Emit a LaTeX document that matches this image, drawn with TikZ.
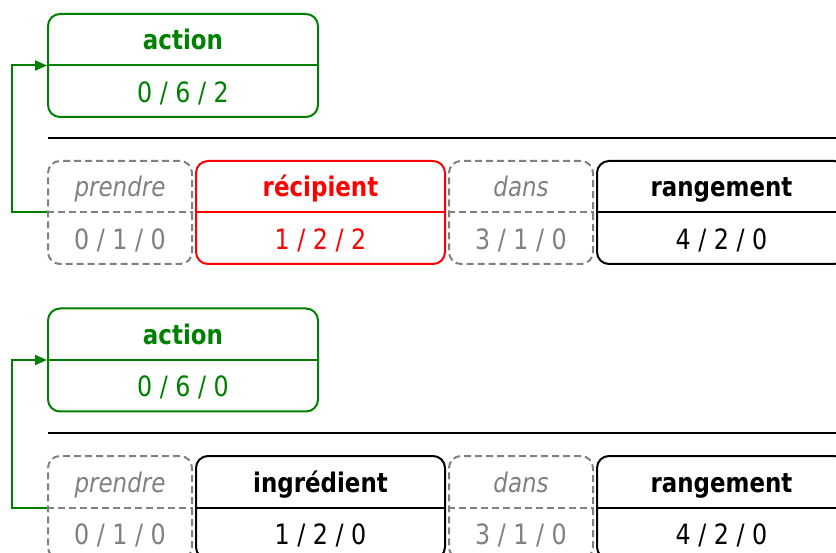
\documentclass[tikz,border=0pt]{standalone}
\usepackage{fontspec}
\setmainfont{DejaVu Sans}[FakeStretch=0.85]
\usetikzlibrary{arrows.meta}
\definecolor{actgreen}{RGB}{0,128,0}
\definecolor{skipgray}{RGB}{128,128,128}
\tikzset{
  cell/.style={rounded corners=12pt, line width=2pt, minimum height=103pt, inner sep=0pt},
  act/.style={draw=actgreen, text=actgreen},
  key/.style={draw=red, text=red},
  plain/.style={draw=black, text=black},
  skip/.style={draw=skipgray, text=skipgray, dash pattern=on 7pt off 4pt},
  ttl/.style={font=\fontsize{27}{32}\selectfont, inner sep=0pt, anchor=base},
  val/.style={font=\fontsize{28}{32}\selectfont, inner sep=0pt, anchor=base},
  back/.style={act, line width=2pt, -{Triangle[length=12pt,width=10pt]}},
  rule/.style={line width=2pt}
}
\begin{document}
\begin{tikzpicture}[x=1pt, y=-1pt]
        \clip (0,0) rectangle (836,553);
        %Cells
        \foreach \nm/\x/\y/\w/\s/\t/\v in {
            act1/183/65.5/270/act/\textbf{action}/{0 / 6 / 2},
            p1/120/212.5/144/skip/\textit{prendre}/{0 / 1 / 0},
            r1/320.5/212.5/249/key/\textbf{récipient}/{1 / 2 / 2},
            d1/521/212.5/144/skip/\textit{dans}/{3 / 1 / 0},
            g1/721.5/212.5/249/plain/\textbf{rangement}/{4 / 2 / 0},
            act2/183/360/270/act/\textbf{action}/{0 / 6 / 0},
            p2/120/507.5/144/skip/\textit{prendre}/{0 / 1 / 0},
            i2/320.5/507.5/249/plain/\textbf{ingrédient}/{1 / 2 / 0},
            d2/521/507.5/144/skip/\textit{dans}/{3 / 1 / 0},
            g2/721.5/507.5/249/plain/\textbf{rangement}/{4 / 2 / 0}}
        {
          \node[cell, \s, minimum width=\w pt] (\nm) at (\x,\y) {};
          \draw[cell, \s] (\nm.west) -- (\nm.east);
          \node[ttl, \s, draw=none] (\nm-t) at ([yshift=15.5pt]\nm.center) {\t};
          \node[val, \s, draw=none] (\nm-v) at ([yshift=-37pt]\nm.center) {\v};
        }
        %Rules
        \draw[rule] (48,138) -- (840,138);
        \draw[rule] (48,433) -- (840,433);
        %Back arrows
        \draw[back] (p1.west) -- ++(-35,0) |- (act1.west);
        \draw[back] (p2.west) -- ++(-35,0) |- (act2.west);
\end{tikzpicture}
\end{document}
